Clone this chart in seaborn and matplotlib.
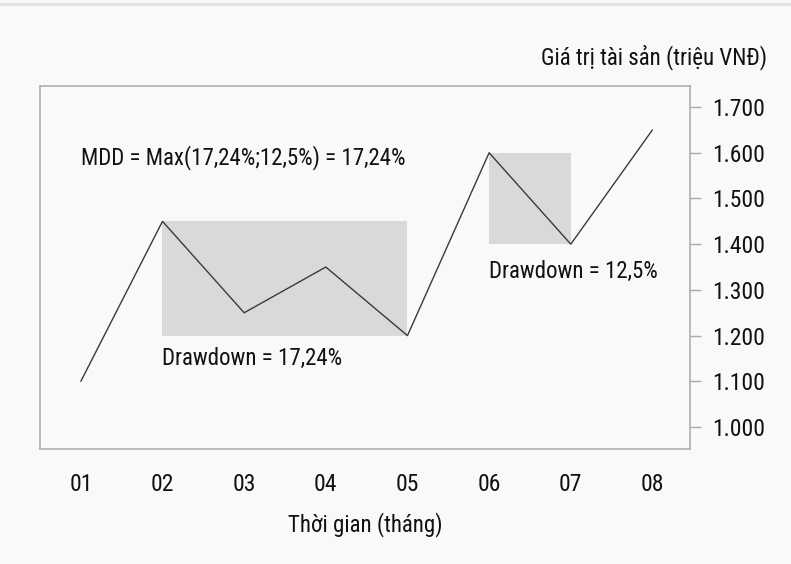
import matplotlib
matplotlib.use("Agg")
import matplotlib.pyplot as plt
import matplotlib.patches as mpatches
import seaborn as sns
import pandas as pd

months = ["01", "02", "03", "04", "05", "06", "07", "08"]
values = [1.10, 1.45, 1.25, 1.35, 1.20, 1.60, 1.40, 1.65]
yticks = [1.0, 1.1, 1.2, 1.3, 1.4, 1.5, 1.6, 1.7]
ytick_labels = ["1.000", "1.100", "1.200", "1.300", "1.400", "1.500", "1.600", "1.700"]
# drawdown boxes: (start index, end index, low value, high value)
dd1 = (1, 4, 1.20, 1.45)
dd2 = (5, 6, 1.40, 1.60)
title_text = "MDD = Max(17,24%;12,5%) = 17,24%"
dd1_text = "Drawdown = 17,24%"
dd2_text = "Drawdown = 12,5%"
xlabel = "Thời gian (tháng)"
ylabel = "Giá trị tài sản (triệu VNĐ)"

sns.set_style("white")
plt.rcParams["font.family"] = ["Roboto Condensed", "Roboto", "DejaVu Sans"]

BG = "#f9f9f9"
FS = 16.5
fig = plt.figure(figsize=(7.91, 5.64), dpi=100, facecolor=BG)
ax = fig.add_axes([40 / 791, 1 - 449 / 564, 650 / 791, 363 / 564])
ax.set_facecolor(BG)

df = pd.DataFrame({"x": range(len(months)), "y": values})
for (x0, x1, y0, y1) in (dd1, dd2):
    ax.add_patch(mpatches.Rectangle((x0, y0), x1 - x0, y1 - y0,
                                    facecolor="#d9d9d9", edgecolor="none", zorder=1))
sns.lineplot(data=df, x="x", y="y", ax=ax, color="#3a3a3a", linewidth=1.0, zorder=3)

ax.set_xlim(-0.5, 7.46)
ax.set_ylim(0.952, 1.746)
ax.set_xticks(range(len(months)))
ax.set_xticklabels(months)
ax.set_yticks(yticks)
ax.set_yticklabels(ytick_labels)
ax.yaxis.tick_right()
ax.tick_params(axis="both", which="both", direction="out", length=8, width=1,
               color="#aaaaaa", labelsize=17, labelcolor="#111111")
ax.tick_params(axis="x", pad=9)
ax.tick_params(axis="y", pad=8)
for s in ax.spines.values():
    s.set_color("#aaaaaa")
    s.set_linewidth(1.1)
ax.set_xlabel("")
ax.set_ylabel("")

ax.text(0, 1.59, title_text, fontsize=FS, color="#111111", va="center", ha="left")
ax.text(1, 1.15, dd1_text, fontsize=FS, color="#111111", va="center", ha="left")
ax.text(5.0, 1.34, dd2_text, fontsize=FS, color="#111111", va="center", ha="left")

fig.text(767 / 791, 1 - 57 / 564, ylabel, fontsize=FS, color="#111111", ha="right", va="center")
fig.text(365 / 791, 1 - 525 / 564, xlabel, fontsize=FS, color="#111111", ha="center", va="center")

fig.add_artist(mpatches.Rectangle((0, 1 - 6 / 564), 1, 3 / 564, transform=fig.transFigure,
                                  facecolor="#e2e2e2", edgecolor="none"))

fig.savefig("out.png", dpi=100, facecolor=BG)
